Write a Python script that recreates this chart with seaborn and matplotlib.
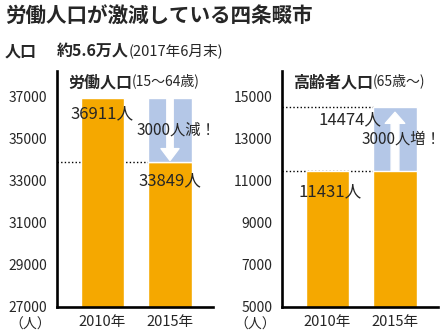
import matplotlib
matplotlib.use("Agg")
import matplotlib.pyplot as plt
import seaborn as sns
from matplotlib.patches import FancyArrowPatch

# Data
years = ["2010年", "2015年"]
working = [36911, 33849]          # 労働人口 (15〜64歳)
elderly = [11431, 14474]          # 高齢者人口 (65歳〜)
working_ticks = [27000, 29000, 31000, 33000, 35000, 37000]
elderly_ticks = [5000, 7000, 9000, 11000, 13000, 15000]
change_labels = ["3000人減！", "3000人増！"]

ORANGE = "#F5A800"
BLUE = "#B4C7E7"

sns.set_style("white")
plt.rcParams["font.family"] = ["Noto Sans CJK JP", "DejaVu Sans"]

W, H = 447, 336
fig = plt.figure(figsize=(W / 100, H / 100), dpi=100)


def axes_px(x0, x1, y0, y1):
    return fig.add_axes([x0 / W, 1 - y1 / H, (x1 - x0) / W, (y1 - y0) / H])


ax1 = axes_px(57, 213, 71, 307)
ax2 = axes_px(282, 438, 71, 307)

BW = 0.64
XLIM = (-0.674, 1.637)
EDGE = 1 - BW / 2
DOT = (0, (1, 1.6))

# ---- 労働人口 ----
sns.barplot(x=years, y=working, color=ORANGE, saturation=1, width=BW, ax=ax1, zorder=2)
ax1.bar(1, working[0] - working[1], bottom=working[1], width=BW, color=BLUE, zorder=2)
ax1.set_ylim(27000, 38185)
ax1.set_xlim(*XLIM)
ax1.hlines(working[1], XLIM[0], EDGE, colors="black", linestyles=DOT, lw=1.0, zorder=1)
diff1 = working[0] - working[1]
ax1.add_patch(FancyArrowPatch((1, working[0]), (1, working[1] + 0.03 * diff1),
                              arrowstyle="simple,head_length=8.6,head_width=13,tail_width=4.6",
                              mutation_scale=1, color="white", shrinkA=0, shrinkB=0, zorder=3))
ax1.annotate(f"{working[0]}人", xy=(0, working[0]), xytext=(0, -11.5),
             textcoords="offset points", ha="center", va="center", fontsize=12, zorder=4)
ax1.annotate(f"{working[1]}人", xy=(1, working[1]), xytext=(0, -13),
             textcoords="offset points", ha="center", va="center", fontsize=12, zorder=4)
ax1.text(0.511, (working[0] + working[1]) / 2, change_labels[0], ha="left", va="center",
         fontsize=11, zorder=4, clip_on=False)

# ---- 高齢者人口 ----
sns.barplot(x=years, y=elderly, hue=years, palette=[ORANGE, BLUE], saturation=1,
            width=BW, legend=False, ax=ax2, zorder=2)
ax2.bar(1, elderly[0], width=BW, color=ORANGE, zorder=2)
ax2.set_ylim(5000, 16185)
ax2.set_xlim(*XLIM)
ax2.hlines([elderly[1], elderly[0]], XLIM[0], EDGE, colors="black", linestyles=DOT,
           lw=1.0, zorder=1)
diff2 = elderly[1] - elderly[0]
ax2.add_patch(FancyArrowPatch((1, elderly[0]), (1, elderly[1] - 0.08 * diff2),
                              arrowstyle="simple,head_length=8,head_width=14,tail_width=5.6",
                              mutation_scale=1, color="white", shrinkA=0, shrinkB=0, zorder=3))
ax2.annotate(f"{elderly[0]}人", xy=(0, elderly[0]), xytext=(2, -15),
             textcoords="offset points", ha="center", va="center", fontsize=12, zorder=4)
ax2.annotate(f"{elderly[1]}人", xy=(0.807, elderly[1]), xytext=(0, -9),
             textcoords="offset points", ha="right", va="center", fontsize=12, zorder=4)
ax2.text(0.511, (elderly[0] + elderly[1]) / 2, change_labels[1], ha="left", va="center",
         fontsize=11, zorder=4, clip_on=False)

# ---- shared axis styling ----
for ax, ticks, title, sub in [(ax1, working_ticks, "労働人口", "(15〜64歳)"),
                              (ax2, elderly_ticks, "高齢者人口", "(65歳〜)")]:
    ax.set_yticks(ticks)
    ax.set_yticklabels([str(t) for t in ticks], fontsize=10)
    ax.set_xticks([0, 1])
    ax.set_xticklabels(years, fontsize=10.5)
    ax.tick_params(axis="y", length=0, pad=7)
    ax.tick_params(axis="x", length=0, pad=6)
    ax.set_xlabel("")
    ax.set_ylabel("")
    for side in ("top", "right"):
        ax.spines[side].set_visible(False)
    for side in ("left", "bottom"):
        ax.spines[side].set_color("black")
        ax.spines[side].set_linewidth(1.9)
    t = ax.text(0.0705, 0.953, title, transform=ax.transAxes, ha="left", va="center",
                fontsize=11.5, fontweight="bold")
    ax.annotate(sub, xy=(1, 0.1), xycoords=t, ha="left", va="bottom", fontsize=10)
    ax.text(-0.173, -0.076, "（人）", transform=ax.transAxes, ha="center", va="center",
            fontsize=10, clip_on=False)

# ---- headings ----
fig.text(5 / W, 1 - 16.5 / H, "労働人口が激減している四条畷市", ha="left", va="center",
         fontsize=14.8, fontweight="bold")
fig.text(5 / W, 1 - 52 / H, "人口", ha="left", va="center", fontsize=11.5, fontweight="bold")
pop = fig.text(57 / W, 1 - 52 / H, "約5.6万人", ha="left", va="center", fontsize=11.5,
               fontweight="bold")
fig.add_artist(plt.Annotation("(2017年6月末)", xy=(1, 0.12), xycoords=pop, ha="left",
                              va="bottom", fontsize=10.5))

fig.savefig("out.png", dpi=100, facecolor="white")
